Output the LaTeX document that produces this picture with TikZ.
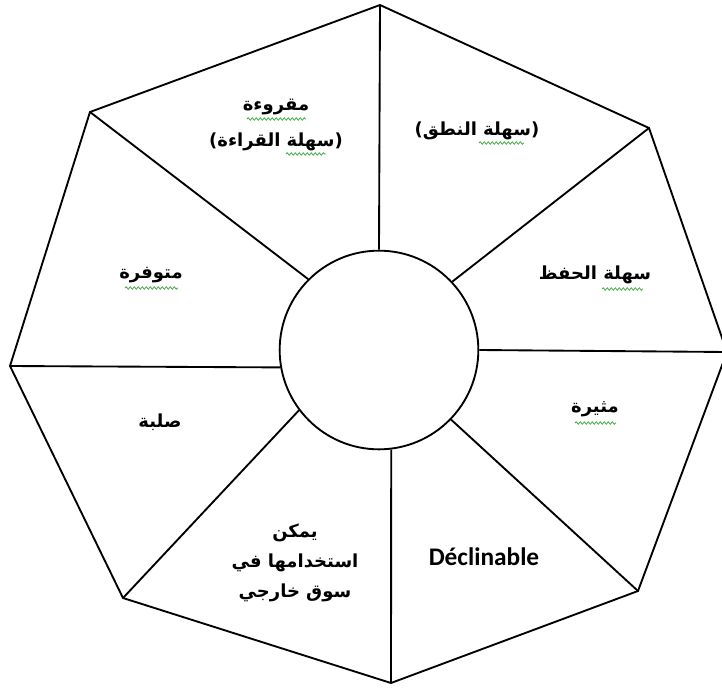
\documentclass[tikz,border=0pt]{standalone}
\usepackage{fontspec}
\setmainfont{Carlito}
\newfontfamily\arabicfont[Script=Arabic]{DejaVu Sans}
\newfontfamily\parenfont{DejaVu Sans}
\TeXXeTstate=1
\usetikzlibrary{decorations.pathmorphing}
\definecolor{spellgreen}{RGB}{70,170,70}
\newcommand{\artxt}[1]{{\arabicfont\beginR #1\endR}}
\newcommand{\inparen}[1]{{\parenfont(}\artxt{#1}{\parenfont)}}

\begin{document}
\begin{tikzpicture}[
  x=0.75pt, y=-0.75pt,
  edge/.style={line width=1.4pt, line join=miter},
  hub/.style={draw, circle, line width=1.4pt, minimum size=149pt, inner sep=0pt},
  lbl/.style={font=\bfseries\fontsize{13.5}{22.5}\selectfont, align=center, inner sep=0pt},
  spell/.style={spellgreen, line width=0.6pt,
                decorate, decoration={snake, amplitude=0.9pt, segment length=3pt}}
]
\useasboundingbox (0,0) rectangle (722,689);
\node[hub] (hub) at (379,350) {};
\coordinate (vtop) at (380,5);
\coordinate (vur)  at (649,128);
\coordinate (vr)   at (727,352);
\coordinate (vlr)  at (638,591);
\coordinate (vbot) at (391,683);
\coordinate (vll)  at (123,598);
\coordinate (vl)   at (10,366);
\coordinate (vul)  at (90,112);
\draw[edge] (vtop) -- (vur) -- (vr) -- (vlr) -- (vbot) -- (vll) -- (vl) -- (vul) -- cycle;
\foreach \v/\a in {vtop/90, vur/43, vr/0, vlr/316, vbot/277, vll/217, vl/190, vul/135}
  \draw[edge] (\v) -- (hub.\a);

\node[lbl] (read)   at (276,125) {\artxt{مقروءة}\\[4pt]\inparen{سهلة القراءة}};
\node[lbl] (speak)  at (477,131) {\inparen{سهلة النطق}};
\node[lbl] (keep)   at (595,275) {\artxt{سهلة الحفظ}};
\node[lbl] (excite) at (595,409) {\artxt{مثيرة}};
\node[lbl, font=\bfseries\fontsize{19}{23}\selectfont] (decl) at (484,557) {Déclinable};
\node[lbl] (abroad) at (295,563) {\artxt{يمكن}\\\artxt{استخدامها في}\\\artxt{سوق خارجي}};
\node[lbl] (solid)  at (160,422) {\artxt{صلبة}};
\node[lbl] (avail)  at (151,275) {\artxt{متوفرة}};

\draw[spell] (247,119) -- (306,119);
\draw[spell] (286,154) -- (326,154);
\draw[spell] (479,143) -- (524,143);
\draw[spell] (602,289) -- (643,289);
\draw[spell] (125,288) -- (178,288);
\draw[spell] (575,423) -- (616,423);
\end{tikzpicture}
\end{document}
